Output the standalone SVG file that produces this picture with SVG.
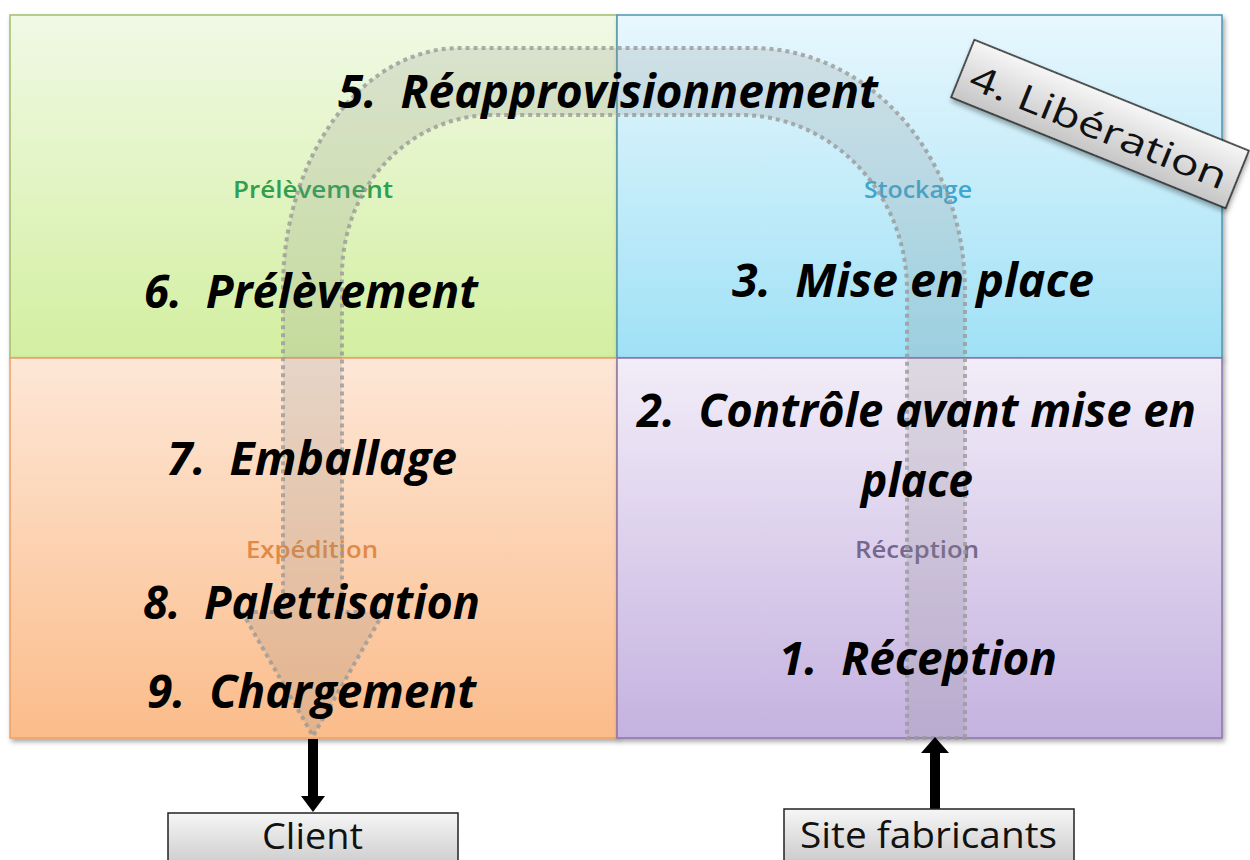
<svg xmlns="http://www.w3.org/2000/svg" width="1250" height="860" viewBox="0 0 1250 860">
  <style>
    .step { font-family: "Open Sans", "Liberation Sans", sans-serif; font-weight: 700; font-style: italic; font-size: 46px; fill: #000; }
    .zone { font-family: "Open Sans", "Liberation Sans", sans-serif; font-size: 24px; font-weight: 600; }
    .box { font-family: "Open Sans", "Liberation Sans", sans-serif; font-size: 36px; fill: #111; }
    .band { fill: #8c8c8c; fill-opacity: 0.2; stroke: #9a9a9a; stroke-opacity: 0.8; stroke-width: 4; stroke-dasharray: 4 4; }
    .shaft { stroke: #000; stroke-width: 10; }
  </style>
  <defs>
    <linearGradient id="gGreen" x1="0" y1="0" x2="0" y2="1"><stop offset="0" stop-color="#f0f9e5"/><stop offset="1" stop-color="#d3efa0"/></linearGradient>
    <linearGradient id="gBlue" x1="0" y1="0" x2="0" y2="1"><stop offset="0" stop-color="#e8f7fd"/><stop offset="1" stop-color="#9fe1f6"/></linearGradient>
    <linearGradient id="gOrange" x1="0" y1="0" x2="0" y2="1"><stop offset="0" stop-color="#fde7d7"/><stop offset="1" stop-color="#fbbc8a"/></linearGradient>
    <linearGradient id="gPurple" x1="0" y1="0" x2="0" y2="1"><stop offset="0" stop-color="#f2edf8"/><stop offset="1" stop-color="#c5b2e0"/></linearGradient>
    <linearGradient id="gGray" x1="0" y1="0" x2="0" y2="1"><stop offset="0" stop-color="#f6f6f6"/><stop offset="1" stop-color="#c6c6c6"/></linearGradient>
    <filter id="shadow" x="-10%" y="-10%" width="130%" height="130%">
      <feDropShadow dx="2" dy="3" stdDeviation="2.5" flood-color="#000" flood-opacity="0.35"/>
    </filter>
  </defs>

  <g id="zone-prelevement">
    <rect x="10" y="15" width="607" height="343" fill="url(#gGreen)" stroke="#a3bd6f" stroke-width="1.5" filter="url(#shadow)"/>
    <text class="zone" x="233" y="198" textLength="160" lengthAdjust="spacingAndGlyphs" fill="#2f9f50">Prélèvement</text>
  </g>
  <g id="zone-stockage">
    <rect x="617" y="15" width="605" height="343" fill="url(#gBlue)" stroke="#4f95b4" stroke-width="1.5" filter="url(#shadow)"/>
    <text class="zone" x="864" y="198" textLength="108" lengthAdjust="spacingAndGlyphs" fill="#3ea6cf">Stockage</text>
  </g>
  <g id="zone-expedition">
    <rect x="10" y="358" width="607" height="380" fill="url(#gOrange)" stroke="#f0a065" stroke-width="1.5" filter="url(#shadow)"/>
    <text class="zone" x="246" y="558" textLength="132" lengthAdjust="spacingAndGlyphs" fill="#e08a46">Expédition</text>
  </g>
  <g id="zone-reception">
    <rect x="617" y="358" width="605" height="380" fill="url(#gPurple)" stroke="#8874aa" stroke-width="1.5" filter="url(#shadow)"/>
    <text class="zone" x="855" y="558" textLength="124" lengthAdjust="spacingAndGlyphs" fill="#76678f">Réception</text>
  </g>

  <g id="connectors">
    <path class="band" d="M 965 738 L 965 290 A 213 242 0 0 0 752 48 L 460 48 A 177 240 0 0 0 283 288 L 283 612 L 242 612 L 313 736 L 384 612 L 342 612 L 342 275 A 151 160 0 0 1 493 115 L 740 115 A 167 175 0 0 1 907 290 L 907 738 Z"/>
    <line class="shaft" x1="313" y1="739" x2="313" y2="798"/>
    <polygon points="301,796 325,796 313,812" fill="#000"/>
    <line class="shaft" x1="935" y1="809" x2="935" y2="750"/>
    <polygon points="921,753 949,753 935,737" fill="#000"/>
  </g>

  <g id="step-5">
    <text class="step" x="338" y="108" textLength="540" lengthAdjust="spacingAndGlyphs">5.&#160; Réapprovisionnement</text>
  </g>
  <g id="step-6">
    <text class="step" x="144" y="308" textLength="334" lengthAdjust="spacingAndGlyphs">6.&#160; Prélèvement</text>
  </g>
  <g id="step-3">
    <text class="step" x="732" y="297" textLength="362" lengthAdjust="spacingAndGlyphs">3.&#160; Mise en place</text>
  </g>
  <g id="step-2">
    <text class="step" x="637" y="427" textLength="559" lengthAdjust="spacingAndGlyphs">2.&#160; Contrôle avant mise en</text>
    <text class="step" x="861" y="497" textLength="112" lengthAdjust="spacingAndGlyphs">place</text>
  </g>
  <g id="step-1">
    <text class="step" x="779" y="675" textLength="278" lengthAdjust="spacingAndGlyphs">1.&#160; Réception</text>
  </g>
  <g id="step-7">
    <text class="step" x="167" y="475" textLength="290" lengthAdjust="spacingAndGlyphs">7.&#160; Emballage</text>
  </g>
  <g id="step-8">
    <text class="step" x="143" y="619" textLength="337" lengthAdjust="spacingAndGlyphs">8.&#160; Palettisation</text>
  </g>
  <g id="step-9">
    <text class="step" x="147" y="708" textLength="329" lengthAdjust="spacingAndGlyphs">9.&#160; Chargement</text>
  </g>

  <g id="step-4" transform="translate(1100 124) rotate(22)">
    <rect x="-148" y="-31" width="296" height="62" fill="url(#gGray)" stroke="#1a1a1a" stroke-width="1.5" filter="url(#shadow)"/>
    <text class="box" x="0" y="16" text-anchor="middle" font-size="48" textLength="274" lengthAdjust="spacingAndGlyphs">4. Libération</text>
  </g>

  <g id="client">
    <rect x="168" y="813" width="290" height="60" fill="url(#gGray)" stroke="#222" stroke-width="1.5"/>
    <text class="box" x="262" y="849" textLength="101" lengthAdjust="spacingAndGlyphs">Client</text>
  </g>
  <g id="site-fabricants">
    <rect x="784" y="809" width="290" height="60" fill="url(#gGray)" stroke="#222" stroke-width="1.5"/>
    <text class="box" x="800" y="848" textLength="257" lengthAdjust="spacingAndGlyphs">Site fabricants</text>
  </g>
</svg>
